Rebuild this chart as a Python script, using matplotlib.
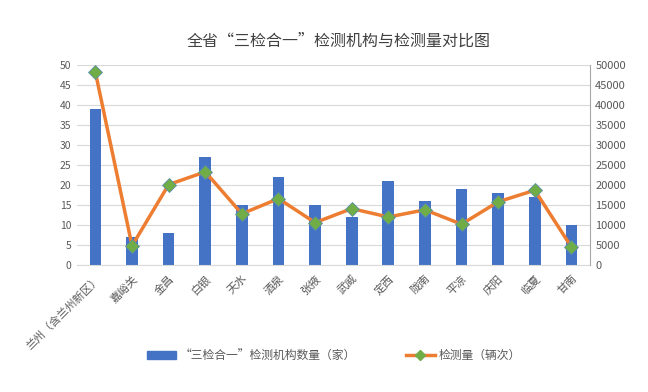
import numpy as np
import matplotlib
matplotlib.use("Agg")
from matplotlib import pyplot as plt
from matplotlib.lines import Line2D
from matplotlib.patches import Patch

plt.rcParams['font.family'] = ['Noto Sans CJK SC', 'DejaVu Sans']

# Data
cities = ["兰州（含兰州新区）", "嘉峪关", "金昌", "白银", "天水", "酒泉", "张掖",
          "武威", "定西", "陇南", "平凉", "庆阳", "临夏", "甘南"]
stations = [39, 7, 8, 27, 15, 22, 15, 12, 21, 16, 19, 18, 17, 10]
volume = [48200, 4800, 20100, 23300, 12800, 16600, 10600, 14100, 12000, 13800,
          10200, 15800, 18700, 4500]

grey = "#595959"
fig = plt.figure(figsize=(6.48, 3.92), dpi=100)
ax = fig.add_axes([0.119, 0.324, 0.791, 0.510])
x = np.arange(len(cities))

ax.bar(x, stations, width=0.32, color="#4472C4", zorder=2)
ax.set_ylim(0, 50)
ax.set_yticks(range(0, 51, 5))
ax.set_xlim(-0.5, len(cities) - 0.5)
ax.grid(axis="y", color="#D9D9D9", linewidth=0.8, zorder=0)
ax.set_axisbelow(True)
for s in ["top", "right", "left"]:
    ax.spines[s].set_visible(False)
ax.spines["bottom"].set_color("#D9D9D9")
ax.tick_params(axis="y", length=0, labelsize=7.5, colors=grey, pad=4)
ax.tick_params(axis="x", length=0, labelsize=8, colors=grey, pad=6)
ax.set_xticks(x)
ax.set_xticklabels(cities, rotation=45, ha="right", rotation_mode="anchor")

ax2 = ax.twinx()
ax2.plot(x, volume, color="#ED7D31", linewidth=2.5, marker="D", markersize=7,
         markerfacecolor="#70AD47", markeredgecolor="#5B8FA8", markeredgewidth=0.6, zorder=3)
ax2.set_ylim(0, 50000)
ax2.set_yticks(range(0, 50001, 5000))
for s in ["top", "left", "bottom"]:
    ax2.spines[s].set_visible(False)
ax2.spines["right"].set_color("#A6A6A6")
ax2.tick_params(length=0, labelsize=8, colors=grey, pad=4)

fig.text(0.522, 0.895, "全省“三检合一”检测机构与检测量对比图", ha="center", va="center",
         fontsize=11.5, color="#404040")

handles = [Patch(color="#4472C4"),
           Line2D([0], [0], color="#ED7D31", linewidth=2.5, marker="D", markersize=5,
                  markerfacecolor="#70AD47", markeredgecolor="#70AD47")]
labels = ["“三检合一”检测机构数量（家）", "检测量（辆次）"]
fig.legend(handles, labels, loc="center", bbox_to_anchor=(0.515, 0.093), ncol=2,
           frameon=False, fontsize=8.5, labelcolor=grey, handlelength=2.5,
           handletextpad=0.3, columnspacing=4.2)

fig.savefig("out.png", dpi=100)
